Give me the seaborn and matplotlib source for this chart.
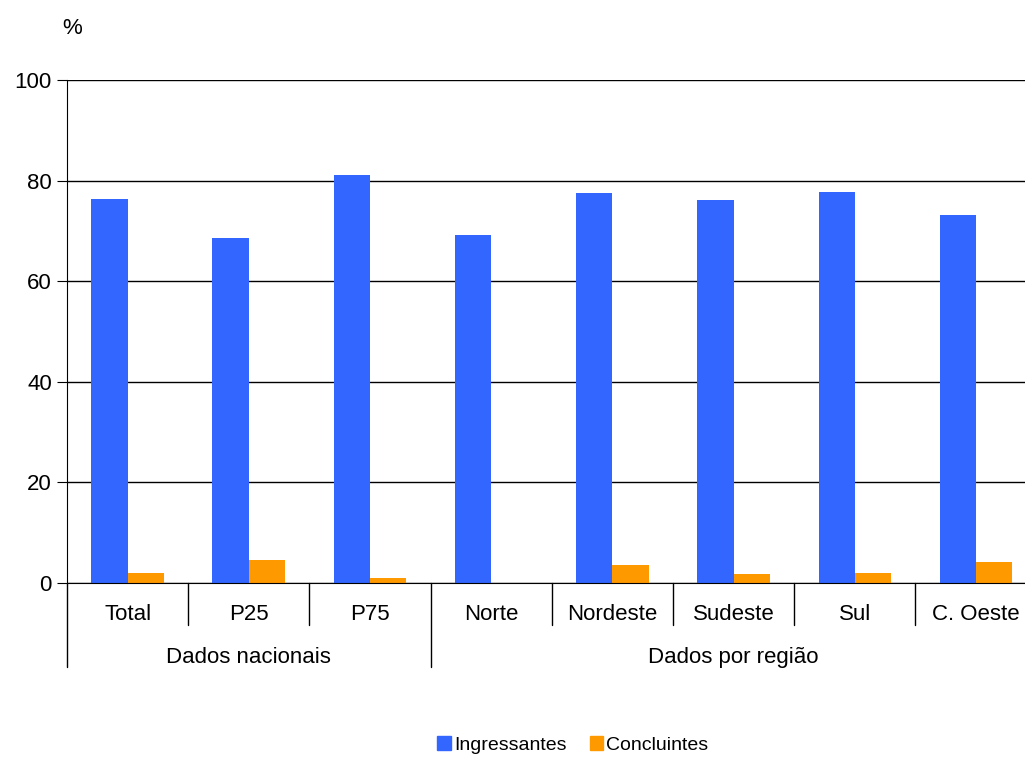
import pandas as pd
import matplotlib.pyplot as plt
import seaborn as sns

# Values (%)
categorias = ["Total", "P25", "P75", "Norte", "Nordeste", "Sudeste", "Sul", "C. Oeste"]
ingressantes = [76.4, 68.5, 81.1, 69.2, 77.6, 76.1, 77.7, 73.2]
concluintes = [2.0, 4.6, 1.0, 0.0, 3.5, 1.8, 2.0, 4.2]
grupos = ["Dados nacionais", "Dados por região"]
grupo_tamanho = [3, 5]
series = ["Ingressantes", "Concluintes"]
cores = ["#3366FF", "#FF9900"]

df = pd.DataFrame({
    "categoria": categorias * 2,
    "valor": ingressantes + concluintes,
    "serie": [series[0]] * len(categorias) + [series[1]] * len(categorias),
})

sns.set_style("white")
plt.rcParams['font.family'] = ['Liberation Sans', 'DejaVu Sans']
plt.rcParams['text.color'] = 'black'
plt.rcParams['xtick.color'] = 'black'
plt.rcParams['ytick.color'] = 'black'

fig = plt.figure(figsize=(10.25, 7.57), dpi=100)
# axes runs a bit past the right edge, as in the reference
ax = fig.add_axes([0.0654, 0.2299, 0.946, 0.6644])

sns.barplot(data=df, x="categoria", y="valor", hue="serie", palette=cores,
            saturation=1, width=0.6, ax=ax, legend=False, edgecolor="none")

ax.set_ylim(0, 100)
ax.set_xlim(-0.5, len(categorias) - 0.5)
ax.set_yticks(range(0, 101, 20))
ax.yaxis.grid(True, color="black", linewidth=1)
ax.set_axisbelow(True)
ax.set_xlabel("")
ax.set_ylabel("")
for s in ["top", "right"]:
    ax.spines[s].set_visible(False)
ax.spines["left"].set_color("black")
ax.spines["bottom"].set_color("black")
ax.tick_params(axis="y", left=True, length=7, color="black", labelsize=16, pad=4)
ax.tick_params(axis="x", bottom=False, labelsize=16, pad=12)

# category dividers below the axis
trans = ax.get_xaxis_transform()
bounds = []
acc = 0
for n in grupo_tamanho:
    acc += n
    bounds.append(acc)
for i in range(1, len(categorias)):
    ybot = -0.167 if i in bounds else -0.083
    ax.plot([i - 0.5, i - 0.5], [0, ybot], color="black", lw=1,
            transform=trans, clip_on=False)
ax.plot([-0.5, -0.5], [0, -0.167], color="black", lw=1,
        transform=trans, clip_on=False)

# group labels
start = 0
for g, n in zip(grupos, grupo_tamanho):
    ax.text(start + (n - 1) / 2, -0.148, g, transform=trans, ha="center",
            va="center", fontsize=16)
    start += n

fig.text(0.0605, 0.963, "%", fontsize=16, ha="left", va="center")

handles = [plt.Rectangle((0, 0), 1, 1, color=c) for c in cores]
fig.legend(handles, series, loc="lower center", bbox_to_anchor=(0.559, -0.019),
           ncol=2, frameon=False, fontsize=14, handlelength=0.7,
           handleheight=0.7, handletextpad=0.15, columnspacing=1.2)

fig.savefig("out.png", dpi=100)
